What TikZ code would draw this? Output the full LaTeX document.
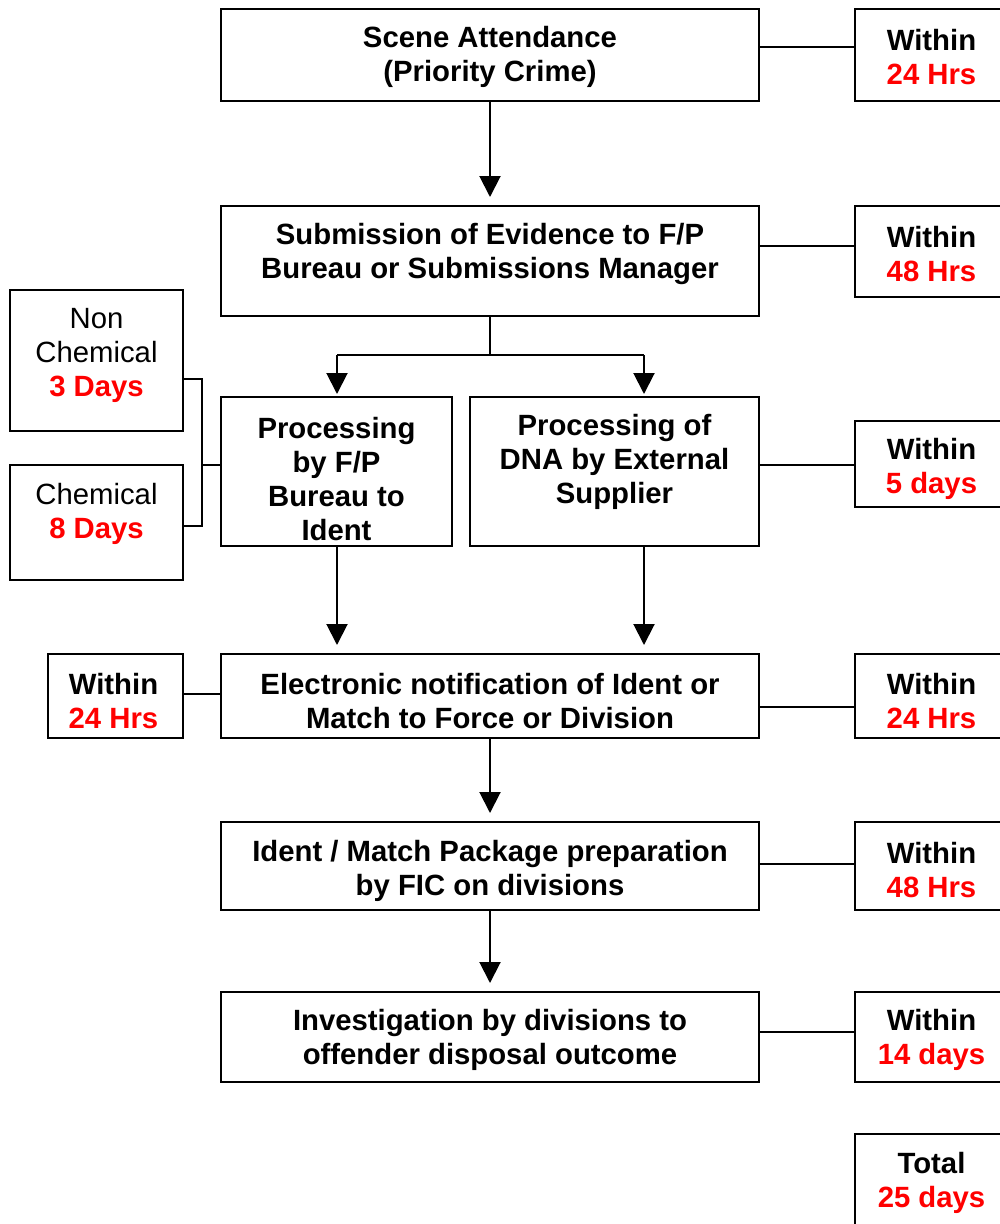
\documentclass[tikz,border=0pt]{standalone}
\usepackage{fontspec}
\setmainfont{Liberation Sans}
\usetikzlibrary{arrows.meta}
\definecolor{tred}{RGB}{255,0,0}
\begin{document}
\begin{tikzpicture}[x=1pt,y=-1pt,
  box/.style={draw, line width=2pt, inner sep=0pt, outer sep=0pt},
  txt/.style={align=center, font=\fontsize{29.3}{34}\selectfont\bfseries, inner sep=0pt, yshift=-3pt},
  ntxt/.style={align=center, font=\fontsize{29.3}{34}\selectfont, inner sep=0pt, yshift=-3pt},
  conn/.style={line width=2pt},
  arr/.style={line width=2pt, -{Triangle[width=21pt,length=21pt]}, shorten >=9pt},
  rbox/.style={box, minimum width=153pt},
]
\useasboundingbox (0,0) rectangle (1000,1224);
\clip (0,0) rectangle (1000,1224);

% main column boxes
\node[box, minimum width=538pt, minimum height=92pt] (scene) at (490,55) {};
\node[txt] (scenet) at (490,54) {Scene Attendance\\(Priority Crime)};
\node[box, minimum width=538pt, minimum height=110pt] (sub) at (490,261) {};
\node[txt] (subt) at (490,251) {Submission of Evidence to F/P\\Bureau or Submissions Manager};
\node[box, minimum width=231pt, minimum height=149pt] (fp) at (336.5,471.5) {};
\node[txt] (fpt) at (336.5,476) {Processing\\by F/P\\Bureau to\\Ident};
\node[box, minimum width=289pt, minimum height=149pt] (dna) at (614.5,471.5) {};
\node[txt] (dnat) at (614.5,459) {Processing of\\DNA by External\\Supplier};
\node[box, minimum width=538pt, minimum height=84pt] (elec) at (490,696) {};
\node[txt] (elect) at (490,698.5) {Electronic notification of Ident or\\Match to Force or Division};
\node[box, minimum width=538pt, minimum height=88pt] (ident) at (490,866) {};
\node[txt] (identt) at (490,867.5) {Ident / Match Package preparation\\by FIC on divisions};
\node[box, minimum width=538pt, minimum height=90pt] (inv) at (490,1037) {};
\node[txt] (invt) at (490,1036.5) {Investigation by divisions to\\offender disposal outcome};

% left boxes
\node[box, minimum width=173pt, minimum height=141pt] (nonchem) at (96.5,360.5) {};
\node[ntxt] (nonchemt) at (96.5,352) {Non\\Chemical\\\textbf{\textcolor{tred}{3 Days}}};
\node[box, minimum width=173pt, minimum height=115pt] (chem) at (96.5,522.5) {};
\node[ntxt] (chemt) at (96.5,510.5) {Chemical\\\textbf{\textcolor{tred}{8 Days}}};
\node[box, minimum width=135pt, minimum height=84pt] (lw) at (115.5,696) {};
\node[txt] (lwt) at (113.5,698.5) {Within\\\textcolor{tred}{24 Hrs}};

% right boxes
\node[rbox, minimum height=92pt] (r1) at (931.5,55) {};
\node[txt] (r1t) at (931.5,54) {Within\\\textcolor{tred}{24 Hrs}};
\node[rbox, minimum height=91pt] (r2) at (931.5,251.5) {};
\node[txt] (r2t) at (931.5,251) {Within\\\textcolor{tred}{48 Hrs}};
\node[rbox, minimum height=86pt] (r3) at (931.5,464) {};
\node[txt] (r3t) at (931.5,466) {Within\\\textcolor{tred}{5 days}};
\node[rbox, minimum height=84pt] (r4) at (931.5,696) {};
\node[txt] (r4t) at (931.5,698.5) {Within\\\textcolor{tred}{24 Hrs}};
\node[rbox, minimum height=88pt] (r5) at (931.5,866) {};
\node[txt] (r5t) at (931.5,867.5) {Within\\\textcolor{tred}{48 Hrs}};
\node[rbox, minimum height=90pt] (r6) at (931.5,1037) {};
\node[txt] (r6t) at (931.5,1036.5) {Within\\\textcolor{tred}{14 days}};
\node[rbox, minimum height=94pt] (tot) at (931.5,1181) {};
\node[txt] (tott) at (931.5,1180) {Total\\\textcolor{tred}{25 days}};

% horizontal connectors to right boxes
\draw[conn] (scene.east |- 0,47) -- (r1.west |- 0,47);
\draw[conn] (sub.east |- 0,246) -- (r2.west |- 0,246);
\draw[conn] (dna.east |- 0,465) -- (r3.west |- 0,465);
\draw[conn] (elec.east |- 0,707) -- (r4.west |- 0,707);
\draw[conn] (ident.east |- 0,864) -- (r5.west |- 0,864);
\draw[conn] (inv.east |- 0,1032) -- (r6.west |- 0,1032);
\draw[conn] (lw.east |- 0,694) -- (elec.west |- 0,694);

% bracket for left boxes
\coordinate (bt) at (202,379);
\coordinate (bb) at (202,526);
\draw[conn] (nonchem.east |- bt) -- (bt) -- (bb) -- (chem.east |- bb);
\draw[conn] (202,465) -- (fp.west |- 0,465);

% vertical arrows
\draw[arr] (scene.south) -- (sub.north);
\coordinate (split) at (490,355);
\draw[conn] (sub.south) -- (split);
\draw[conn] (337,355) -- (644,355);
\draw[arr, shorten >=3pt] (337,355) -- (fp.north -| 337,0);
\draw[arr, shorten >=3pt] (644,355) -- (dna.north -| 644,0);
\draw[arr] (fp.south -| 337,0) -- (elec.north -| 337,0);
\draw[arr] (dna.south -| 644,0) -- (elec.north -| 644,0);
\draw[arr] (elec.south) -- (ident.north);
\draw[arr] (ident.south) -- (inv.north);
\end{tikzpicture}
\end{document}
